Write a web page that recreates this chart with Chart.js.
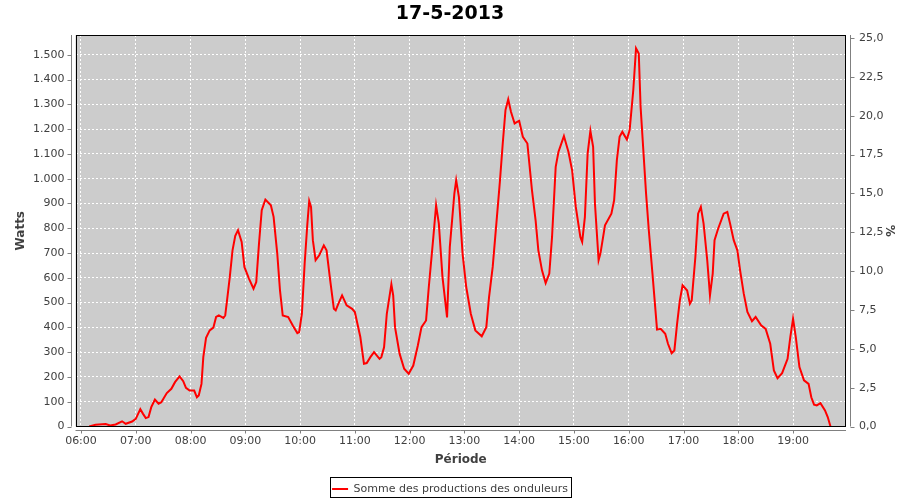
<!DOCTYPE html>
<html>
<head>
<meta charset="utf-8">
<script src="https://cdn.jsdelivr.net/npm/chart.js@4.4.1/dist/chart.umd.min.js"></script>
<style>
html,body{margin:0;padding:0;background:#fff;}
#wrap{width:900px;height:500px;position:relative;}
</style>
</head>
<body>
<div id="wrap"><canvas id="c" width="900" height="500"></canvas></div>
<script>
// ---- data ----
const chartTitle = '17-5-2013';
const seriesName = 'Somme des productions des onduleurs';
const xTitle = 'Période';
const yTitle = 'Watts';
const y2Title = '%';
const times = [
 '06:09','06:16','06:27','06:32','06:38','06:45','06:49','06:56','07:00','07:05',
 '07:08','07:11','07:14','07:17','07:21','07:25','07:28','07:34','07:39','07:43',
 '07:48','07:52','07:55','07:59','08:04','08:07','08:09','08:12','08:14','08:17',
 '08:21','08:25','08:28','08:31','08:36','08:38','08:40','08:43','08:46','08:49',
 '08:52','08:56','08:59','09:04','09:09','09:12','09:15','09:18','09:22','09:28',
 '09:31','09:35','09:38','09:41','09:47','09:52','09:57','09:59','10:02','10:05',
 '10:08','10:10','10:12','10:14','10:17','10:21','10:26','10:29','10:33','10:37',
 '10:39','10:42','10:46','10:51','10:57','11:00','11:06','11:10','11:13','11:17',
 '11:21','11:27','11:29','11:32','11:35','11:40','11:42','11:44','11:49','11:54',
 '11:59','12:04','12:09','12:13','12:18','12:21','12:26','12:29','12:32','12:36',
 '12:41','12:44','12:49','12:51','12:54','12:58','13:02','13:07','13:12','13:19',
 '13:24','13:27','13:31','13:35','13:39','13:42','13:45','13:48','13:51','13:55',
 '14:00','14:04','14:09','14:14','14:18','14:21','14:25','14:29','14:33','14:36',
 '14:40','14:43','14:49','14:54','14:58','15:02','15:07','15:09','15:12','15:15',
 '15:18','15:21','15:23','15:27','15:29','15:34','15:41','15:44','15:47','15:50',
 '15:53','15:58','16:01','16:05','16:08','16:11','16:13','16:16','16:19','16:22',
 '16:26','16:29','16:31','16:35','16:40','16:43','16:47','16:50','16:53','16:56',
 '16:59','17:04','17:07','17:09','17:13','17:16','17:19','17:22','17:26','17:29',
 '17:32','17:34','17:38','17:44','17:48','17:51','17:55','17:59','18:02','18:06',
 '18:10','18:15','18:19','18:25','18:30','18:35','18:39','18:43','18:48','18:54',
 '18:57','19:00','19:03','19:07','19:12','19:17','19:20','19:23','19:26','19:30',
 '19:35','19:38','19:41'
];
const watts = [
 0,7,10,4,8,21,11,20,31,70,
 51,34,38,78,109,92,98,135,152,179,
 202,183,156,145,145,118,125,172,280,358,
 388,399,442,448,438,448,509,603,711,770,
 792,745,644,597,556,583,738,873,916,893,
 846,698,549,448,442,408,377,381,455,657,
 819,910,886,752,671,691,731,711,590,475,
 469,496,529,489,475,462,361,253,256,280,
 300,273,280,320,455,574,529,401,294,233,
 213,246,327,401,428,563,765,893,819,603,
 440,724,940,994,926,698,563,455,388,364,
 401,522,644,819,994,1142,1277,1320,1270,1223,
 1234,1169,1142,954,832,711,630,579,617,765,
 1048,1108,1172,1108,1034,886,765,745,846,1102,
 1193,1129,900,671,698,812,859,913,1075,1169,
 1189,1158,1196,1358,1526,1505,1290,1115,940,792,
 617,482,391,394,374,334,296,307,415,509,
 570,549,496,509,684,859,886,819,671,529,
 617,752,799,859,866,819,752,711,630,536,
 462,425,442,408,394,334,226,195,215,273,
 361,435,361,240,186,172,118,88,85,94,
 65,38,0
];
const xStart = '05:54', xEnd = '19:58';   // axis range
const wattTickStep = 100, wattMax = 1580;
const pctTickStep = 2.5, pctMax = 25.19;

// ---- helpers ----
const toMin = s => parseInt(s.slice(0,2),10)*60 + parseInt(s.slice(3),10);
const fmtTime = v => String(Math.floor(v/60)).padStart(2,'0') + ':' + String(Math.round(v%60)).padStart(2,'0');
const fmtWatt = v => v >= 1000 ? Math.floor(v/1000) + '.' + String(v%1000).padStart(3,'0') : String(v);
const fmtPct = v => v.toFixed(1).replace('.', ',');
const points = times.map((t,i) => ({x: toMin(t), y: watts[i]}));

const FONT = 'DejaVu Sans';
const TXT = '#404040';
Chart.defaults.font.family = FONT;

const LEGEND_SHIFT = 4.5;
const decor = {
  id: 'decor',
  afterLayout(chart) {
    const lg = chart.legend;
    if (lg) { lg.top += LEGEND_SHIFT; lg.bottom += LEGEND_SHIFT; }
  },
  beforeDraw(chart) {
    const {ctx, chartArea: a} = chart;
    ctx.save();
    ctx.fillStyle = '#ffffff';
    ctx.fillRect(0, 0, chart.width, chart.height);
    ctx.fillStyle = '#cccccc';
    ctx.fillRect(a.left, a.top, a.right - a.left, a.bottom - a.top);
    ctx.restore();
  },
  afterDraw(chart) {
    const {ctx, chartArea: a, scales} = chart;
    ctx.save();
    // plot outline
    ctx.strokeStyle = '#000000';
    ctx.lineWidth = 1;
    ctx.strokeRect(Math.round(a.left)+0.5, Math.round(a.top)+0.5, Math.round(a.right)-Math.round(a.left)-1, Math.round(a.bottom)-Math.round(a.top)-1);
    // offset axis lines + tick marks
    ctx.strokeStyle = '#808080';
    ctx.beginPath();
    const yl = scales.y, yr = scales.y2, xs = scales.x;
    const lx = Math.round(a.left) - 4.5, rx = Math.round(a.right) + 4.5, by = Math.round(a.bottom) + 3.5;
    ctx.moveTo(lx, a.top); ctx.lineTo(lx, a.bottom);
    yl.ticks.forEach(t => { const p = Math.round(yl.getPixelForValue(t.value)) + 0.5; ctx.moveTo(lx - 4, p); ctx.lineTo(lx, p); });
    ctx.moveTo(rx, a.top); ctx.lineTo(rx, a.bottom);
    yr.ticks.forEach(t => { const p = Math.round(yr.getPixelForValue(t.value)) + 0.5; ctx.moveTo(rx, p); ctx.lineTo(rx + 4, p); });
    ctx.moveTo(a.left, by); ctx.lineTo(a.right, by);
    xs.ticks.forEach(t => { const p = Math.round(xs.getPixelForValue(t.value)) + 0.5; ctx.moveTo(p, by); ctx.lineTo(p, by + 3); });
    ctx.stroke();
    // legend frame
    const lg = chart.legend;
    if (lg && lg.legendItems && lg.legendItems.length) {
      ctx.font = '11px "' + FONT + '"';
      const w = 16 + 5.5 + ctx.measureText(lg.legendItems[0].text).width;
      const x0 = (chart.width - w) / 2;
      const cy = lg.top + 10 + 5.5;
      ctx.strokeStyle = '#000000';
      ctx.lineWidth = 1;
      ctx.strokeRect(Math.round(x0 - 2) + 0.5, Math.round(cy - 12) + 0.5, Math.round(w + 5), 20);
    }
    ctx.restore();
  }
};

new Chart(document.getElementById('c'), {
  type: 'line',
  data: {
    datasets: [{
      label: seriesName,
      data: points,
      borderColor: '#ff0000',
      backgroundColor: '#ff0000',
      borderWidth: 2,
      pointRadius: 0,
      tension: 0,
      fill: false,
      yAxisID: 'y'
    }]
  },
  options: {
    responsive: false,
    animation: false,
    devicePixelRatio: 1,
    layout: { padding: 0 },
    plugins: {
      title: {
        display: true, text: chartTitle, color: '#000000',
        font: { family: FONT, size: 19, weight: 'bold' },
        padding: { top: 2.6, bottom: 9.6 }
      },
      legend: {
        position: 'bottom',
        labels: {
          color: TXT, font: { family: FONT, size: 11 },
          usePointStyle: true, pointStyle: 'line', pointStyleWidth: 16, padding: 10
        }
      },
      tooltip: { enabled: false }
    },
    scales: {
      x: {
        type: 'linear', position: 'bottom',
        min: toMin(xStart), max: toMin(xEnd),
        ticks: { stepSize: 60, includeBounds: false, autoSkip: false, maxRotation: 0,
          callback: v => fmtTime(v), color: TXT, font: { family: FONT, size: 11 }, padding: 8 },
        grid: { color: '#ffffff', lineWidth: 1, drawTicks: false },
        border: { display: false, dash: [2, 2] },
        title: { display: true, text: xTitle, color: TXT, font: { family: FONT, size: 12, weight: 'bold' }, padding: { top: 0, bottom: 1.8 } },
        afterFit: s => { s.height = 42.5; s.paddingLeft = 0; s.paddingRight = 0; }
      },
      y: {
        type: 'linear', position: 'left',
        min: 0, max: wattMax,
        ticks: { stepSize: wattTickStep, includeBounds: false, callback: v => fmtWatt(v), color: TXT, font: { family: FONT, size: 11 }, padding: 11 },
        grid: { color: '#ffffff', lineWidth: 1, drawTicks: false },
        border: { display: false, dash: [2, 2] },
        title: { display: true, text: yTitle, color: TXT, font: { family: FONT, size: 12, weight: 'bold' }, padding: { top: 14, bottom: 0 } },
        afterFit: s => { s.width = 75.5; s.paddingTop = 0; s.paddingBottom = 0; }
      },
      y2: {
        type: 'linear', position: 'right',
        min: 0, max: pctMax,
        ticks: { stepSize: pctTickStep, includeBounds: false, callback: v => fmtPct(v), color: TXT, font: { family: FONT, size: 11 }, padding: 13 },
        grid: { display: false, drawTicks: false },
        border: { display: false },
        title: { display: true, text: y2Title, color: TXT, font: { family: FONT, size: 12, weight: 'bold' }, padding: { top: 3.3, bottom: 0 } },
        afterFit: s => { s.width = 54; s.paddingTop = 0; s.paddingBottom = 0; }
      }
    }
  },
  plugins: [decor]
});
</script>
</body>
</html>
